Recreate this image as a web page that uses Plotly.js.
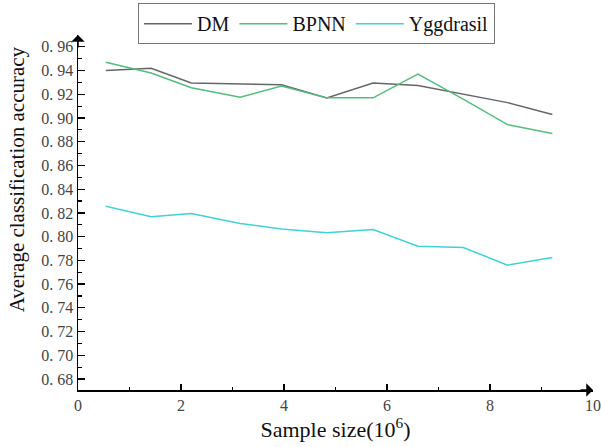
<!DOCTYPE html>
<html>
<head>
<meta charset="utf-8">
<script src="https://cdn.plot.ly/plotly-3.0.1.min.js"></script>
<style>html,body{margin:0;padding:0;background:#fff;}#chart{width:601px;height:447px;}</style>
</head>
<body>
<div id="chart"></div>
<script>
// Data
const sampleSize = [0.54, 1.42, 2.2, 3.15, 3.95, 4.83, 5.73, 6.6, 7.48, 8.34, 9.21];
const dmAcc = [0.940, 0.942, 0.9295, 0.929, 0.928, 0.917, 0.9295, 0.9275, 0.920, 0.913, 0.903];
const bpnnAcc = [0.947, 0.938, 0.9256, 0.9175, 0.927, 0.917, 0.917, 0.937, 0.916, 0.8945, 0.887];
const yggAcc = [0.8257, 0.8167, 0.8195, 0.8111, 0.8065, 0.8032, 0.8060, 0.7920, 0.7909, 0.7760, 0.7825];
const yTickVals = [0.68, 0.70, 0.72, 0.74, 0.76, 0.78, 0.80, 0.82, 0.84, 0.86, 0.88, 0.90, 0.92, 0.94, 0.96];
const yTickText = ["0. 68", "0. 70", "0. 72", "0. 74", "0. 76", "0. 78", "0. 80", "0. 82", "0. 84", "0. 86", "0. 88", "0. 90", "0. 92", "0. 94", "0. 96"];
const xTickVals = [0, 2, 4, 6, 8, 10];
const xTickText = ["0", "2", "4", "6", "8", "10"];

const serif = "Liberation Serif";

const traces = [
  {x: sampleSize, y: dmAcc, name: "DM", type: "scatter", mode: "lines", line: {color: "#666666", width: 1.5}},
  {x: sampleSize, y: bpnnAcc, name: "BPNN", type: "scatter", mode: "lines", line: {color: "#52bd7e", width: 1.5}},
  {x: sampleSize, y: yggAcc, name: "Yggdrasil", type: "scatter", mode: "lines", line: {color: "#3fd3d8", width: 1.5}}
];

const layout = {
  width: 601, height: 447,
  margin: {l: 78, r: 8, t: 35, b: 57, autoexpand: false},
  paper_bgcolor: "#fff", plot_bgcolor: "#fff",
  font: {family: serif, size: 16, color: "#444"},
  showlegend: true,
  legend: {
    orientation: "h", xref: "container", yref: "container", x: 0.2296, xanchor: "left", y: 0.993, yanchor: "top",
    font: {family: serif, size: 20, color: "#111"},
    bordercolor: "#777", borderwidth: 1, bgcolor: "#fff",
    itemwidth: 48
  },
  xaxis: {
    range: [0, 10], tickmode: "array", tickvals: xTickVals, ticktext: xTickText,
    showgrid: false, zeroline: false, showline: true, linecolor: "#000", linewidth: 1.5,
    ticks: "inside", ticklen: 6, tickwidth: 1.2, tickcolor: "#000",
    tickfont: {family: serif, size: 16, color: "#444"},
    title: {text: "Sample size(10<sup>6</sup>)", font: {family: serif, size: 22, color: "#111"}, standoff: 8}
  },
  xaxis2: {
    range: [0, 10], overlaying: "x", anchor: "y", side: "bottom", tickmode: "linear", tick0: 1, dtick: 2,
    showgrid: false, zeroline: false, showline: false, showticklabels: false,
    ticks: "inside", ticklen: 3, tickwidth: 1.2, tickcolor: "#000"
  },
  yaxis: {
    range: [0.6707, 0.97], tickmode: "array", tickvals: yTickVals, ticktext: yTickText,
    showgrid: false, zeroline: false, showline: true, linecolor: "#000", linewidth: 1.5,
    ticks: "inside", ticklen: 7, tickwidth: 1.2, tickcolor: "#000",
    tickfont: {family: serif, size: 16, color: "#444"}
  },
  yaxis2: {
    range: [0.6707, 0.97], overlaying: "y", anchor: "x", side: "left", tickmode: "linear", tick0: 0.69, dtick: 0.02,
    showgrid: false, zeroline: false, showline: false, showticklabels: false,
    ticks: "inside", ticklen: 4, tickwidth: 1.2, tickcolor: "#000"
  },
  annotations: [
    {xref: "paper", yref: "paper", x: 1, y: 0, ax: -14, ay: 0, text: "", showarrow: true, arrowhead: 1, arrowsize: 1.5, arrowwidth: 1.5, arrowcolor: "#000"},
    {xref: "paper", yref: "paper", x: 0, y: 1, ax: 0, ay: 14, text: "", showarrow: true, arrowhead: 1, arrowsize: 1.5, arrowwidth: 1.5, arrowcolor: "#000"},
    {xref: "paper", yref: "paper", x: -0.118, y: 0.594, xanchor: "center", yanchor: "middle", textangle: -90, showarrow: false,
     text: "Average classification accuracy", font: {family: serif, size: 21, color: "#111"}}
  ]
};

// invisible helper trace so the minor-tick axes are drawn
traces.push({x: [sampleSize[0]], y: [yggAcc[0]], xaxis: "x2", yaxis: "y2", type: "scatter", mode: "markers",
  marker: {opacity: 0}, showlegend: false, hoverinfo: "skip"});

Plotly.newPlot("chart", traces, layout, {displayModeBar: false, staticPlot: true});
</script>
</body>
</html>
